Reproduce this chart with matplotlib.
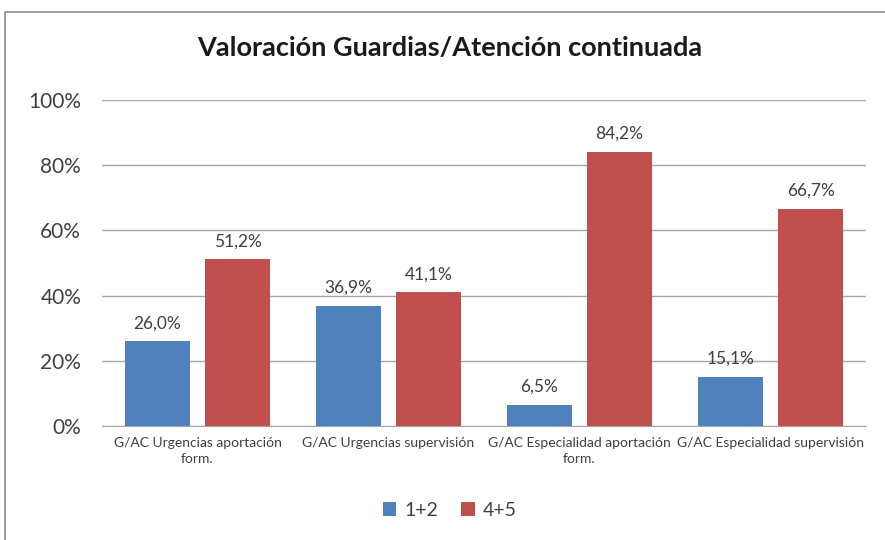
import matplotlib
matplotlib.use("Agg")
import matplotlib.pyplot as plt
from matplotlib.patches import Rectangle
import numpy as np

categories = ["G/AC Urgencias aportación\nform.", "G/AC Urgencias supervisión",
              "G/AC Especialidad aportación\nform.", "G/AC Especialidad supervisión"]
series_names = ["1+2", "4+5"]
s12 = [26.0, 36.9, 6.5, 15.1]
s45 = [51.2, 41.1, 84.2, 66.7]
yticks = [0, 20, 40, 60, 80, 100]

plt.rcParams['font.family'] = ['Lato', 'DejaVu Sans']

fig = plt.figure(figsize=(8.85, 5.4), dpi=100)
fig.patches.append(Rectangle((5/885, -0.1), 1.2, 1.1 - 12/540,
                             transform=fig.transFigure, fill=False,
                             edgecolor='#8c8c8c', linewidth=1.2, zorder=0))
ax = fig.add_axes([102/885, 1 - 426/540, (866-102)/885, (426-100)/540])

x = np.arange(len(categories))
w = 0.34
off = 0.21
b1 = ax.bar(x - off, s12, w, color='#4f81bd', label=series_names[0], zorder=3)
b2 = ax.bar(x + off, s45, w, color='#c0504d', label=series_names[1], zorder=3)

for bars, vals in ((b1, s12), (b2, s45)):
    for r, v in zip(bars, vals):
        ax.text(r.get_x() + r.get_width()/2, v + 3, f"{v:.1f}%".replace('.', ','),
                ha='center', va='bottom', fontsize=12.5, color='#404040')

ax.set_xlim(-0.5, 3.5)
ax.set_ylim(0, 100)
ax.set_yticks(yticks)
ax.set_yticklabels([f"{t}%" for t in yticks], fontsize=15, color='#404040')
ax.yaxis.grid(True, color='#a6a6a6', linewidth=1, zorder=0)
ax.tick_params(axis='y', length=0, pad=15)
ax.set_xticks(x)
ax.set_xticklabels(categories, fontsize=10, color='#404040', linespacing=1.4)
ax.tick_params(axis='x', length=0, pad=8)
for s in ['top', 'right', 'left']:
    ax.spines[s].set_visible(False)
ax.spines['bottom'].set_color('#a6a6a6')

fig.text(0.508, 1 - 48/540, "Valoración Guardias/Atención continuada",
         ha='center', va='center', fontsize=19.5, fontweight='bold', color='#1a1a1a')

fig.legend(handles=[b1, b2], loc='center', bbox_to_anchor=(0.508, 1 - 510/540),
           ncol=2, frameon=False, fontsize=14, handlelength=0.7, handleheight=0.7,
           columnspacing=1.2, handletextpad=0.4, labelcolor='#404040')

fig.savefig("out.png", dpi=100)
